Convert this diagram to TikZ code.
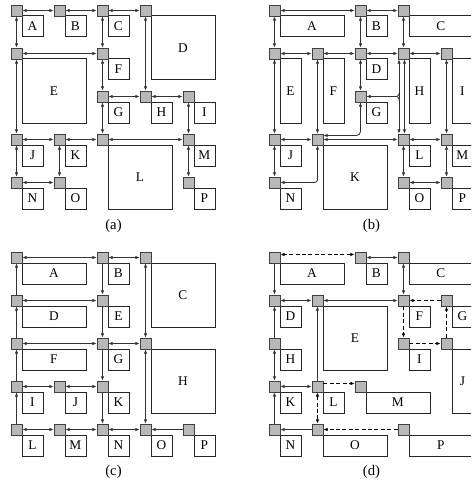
\documentclass[tikz,border=0pt]{standalone}
\usepackage{fontspec}
\setmainfont{Liberation Serif}
\usetikzlibrary{arrows.meta, calc}
\tikzset{
  router/.style={rectangle, draw=black!75, fill=black!28, line width=0.55pt,
    minimum size=8.25pt, inner sep=0pt},
  core/.style={rectangle, draw=black!85, line width=0.55pt, inner sep=0pt,
    anchor=north west, font=\fontsize{10}{11}\selectfont},
  link/.style={draw=black!80, line width=0.6pt},
  duplex/.style={link, {Latex[length=3.2pt,width=2.6pt]}-{Latex[length=3.2pt,width=2.6pt]}},
  simplex/.style={link, -{Latex[length=3.2pt,width=2.6pt]}},
  detour/.style={draw=black, line width=0.9pt, dash pattern=on 3pt off 1.8pt},
  sublabel/.style={font=\fontsize{11}{13}\selectfont},
}

\begin{document}
\begin{tikzpicture}[x=0.75pt, y=-0.75pt]
  \clip (0,0) rectangle (471,485);

  % (a)
  \begin{scope}[shift={(16.5,10.5)}]
    \foreach \n/\cx/\cy/\w/\h in {A/0/0/1/1, B/1/0/1/1, C/2/0/1/1, D/3/0/2/2,
        E/0/1/2/2, F/2/1/1/1, G/2/2/1/1, H/3/2/1/1, I/4/2/1/1, J/0/3/1/1,
        K/1/3/1/1, L/2/3/2/2, M/4/3/1/1, N/0/4/1/1, O/1/4/1/1, P/4/4/1/1}{
      \pgfmathsetmacro\bw{(43*\w-22)*0.75}
      \pgfmathsetmacro\bh{(43*\h-22)*0.75}
      \node[core, minimum width=\bw pt, minimum height=\bh pt] (a-\n) at (43*\cx+5, 43*\cy+5) {\n};
      \node[router] (a-r\n) at (43*\cx, 43*\cy) {};
    }
    \foreach \s/\t in {A/B, B/C, C/D, A/E, C/F, D/H, E/F, E/J, F/G, G/H,
        H/I, G/L, I/M, J/K, K/L, L/M, J/N, K/O, N/O, M/P}
      \draw[duplex] (a-r\s) -- (a-r\t);
  \end{scope}

  % (b)
  \begin{scope}[shift={(274.5,10.5)}]
    \foreach \n/\cx/\cy/\w/\h in {A/0/0/2/1, B/2/0/1/1, C/3/0/2/1, E/0/1/1/2,
        F/1/1/1/2, D/2/1/1/1, H/3/1/1/2, I/4/1/1/2, G/2/2/1/1, J/0/3/1/1,
        K/1/3/2/2, L/3/3/1/1, M/4/3/1/1, N/0/4/1/1, O/3/4/1/1, P/4/4/1/1}{
      \pgfmathsetmacro\bw{(43*\w-22)*0.75}
      \pgfmathsetmacro\bh{(43*\h-22)*0.75}
      \node[core, minimum width=\bw pt, minimum height=\bh pt] (b-\n) at (43*\cx+5, 43*\cy+5) {\n};
      \node[router] (b-r\n) at (43*\cx, 43*\cy) {};
    }
    \foreach \s/\t in {A/B, B/C, A/E, B/D, C/H, E/F, F/D, D/H, H/I, E/J,
        F/K, D/G, I/M, J/K, K/L, L/M, J/N, L/O, M/P, O/P}
      \draw[duplex] (b-r\s) -- (b-r\t);
    \draw[duplex] ($(b-rH.south)+(-4.5,0)$) -- ($(b-rL.north)+(-4.5,0)$);
    \draw[duplex] ($(b-rH.south)+(1,0)$) -- ($(b-rL.north)+(1,0)$);
    \coordinate (b-fork) at ($(b-rG.east -| b-rH.south)+(-4.5,0)$);
    \draw[link, rounded corners=2pt] ($(b-fork)+(0,-4)$) |- ($(b-fork)+(-4,0)$);
    \draw[simplex, rounded corners=2pt] ($(b-fork)+(0,4)$) |- (b-rG.east);
    \draw[duplex, rounded corners=3pt] (b-rG.south) |- ($(b-rK.east)+(0,-4)$);
    \draw[duplex, rounded corners=2pt] (b-rK.south) |- (b-rN.east);
  \end{scope}

  % (c)
  \begin{scope}[shift={(16.5,257.5)}]
    \foreach \n/\cx/\cy/\w/\h in {A/0/0/2/1, B/2/0/1/1, C/3/0/2/2, D/0/1/2/1,
        E/2/1/1/1, F/0/2/2/1, G/2/2/1/1, H/3/2/2/2, I/0/3/1/1, J/1/3/1/1,
        K/2/3/1/1, L/0/4/1/1, M/1/4/1/1, N/2/4/1/1, O/3/4/1/1, P/4/4/1/1}{
      \pgfmathsetmacro\bw{(43*\w-22)*0.75}
      \pgfmathsetmacro\bh{(43*\h-22)*0.75}
      \node[core, minimum width=\bw pt, minimum height=\bh pt] (c-\n) at (43*\cx+5, 43*\cy+5) {\n};
      \node[router] (c-r\n) at (43*\cx, 43*\cy) {};
    }
    \foreach \s/\t in {A/B, B/C, D/E, F/G, G/H, I/J, J/K, L/M, M/N, N/O, C/H, H/O}
      \draw[duplex] (c-r\s) -- (c-r\t);
    \foreach \s/\t in {P/O, L/I, I/F, F/D, D/A, B/E, E/G, G/K, K/N}
      \draw[simplex] (c-r\s) -- (c-r\t);
  \end{scope}

  % (d)
  \begin{scope}[shift={(274.5,257.5)}]
    \foreach \n/\cx/\cy/\w/\h in {A/0/0/2/1, B/2/0/1/1, C/3/0/2/1, D/0/1/1/1,
        E/1/1/2/2, F/3/1/1/1, G/4/1/1/1, H/0/2/1/1, I/3/2/1/1, J/4/2/1/2,
        K/0/3/1/1, L/1/3/1/1, M/2/3/2/1, N/0/4/1/1, O/1/4/2/1, P/3/4/2/1}{
      \pgfmathsetmacro\bw{(43*\w-22)*0.75}
      \pgfmathsetmacro\bh{(43*\h-22)*0.75}
      \node[core, minimum width=\bw pt, minimum height=\bh pt] (d-\n) at (43*\cx+5, 43*\cy+5) {\n};
      \node[router] (d-r\n) at (43*\cx, 43*\cy) {};
    }
    \foreach \s/\t in {B/C, C/F, D/E, E/F, H/K, K/L}
      \draw[duplex] (d-r\s) -- (d-r\t);
    \foreach \s/\t in {A/D, H/D, L/E, O/N, N/K}
      \draw[simplex] (d-r\s) -- (d-r\t);
    % rerouted path
    \foreach \s/\t in {G/F, F/I, I/J, J/G, P/O}
      \draw[simplex, detour] (d-r\s) -- (d-r\t);
    \draw[duplex, detour] (d-rL) -- (d-rO);
    \draw[duplex, detour] ($(d-rB.west)+(0,-3)$) -- ($(d-rA.east)+(0,-3)$);
    \draw[simplex, detour] ($(d-rL.east)+(0,-3)$) -- ($(d-rM.west)+(0,-3)$);
  \end{scope}

  \node[sublabel] (cap-a) at (113.5,226) {(a)};
  \node[sublabel] (cap-b) at (371.5,226) {(b)};
  \node[sublabel] (cap-c) at (113.5,472) {(c)};
  \node[sublabel] (cap-d) at (371.5,472) {(d)};
\end{tikzpicture}
\end{document}
